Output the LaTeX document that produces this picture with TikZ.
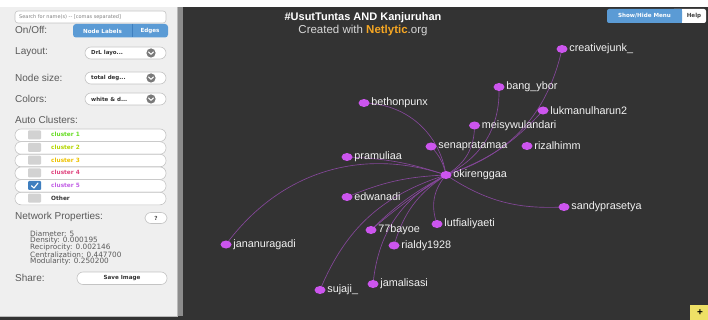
\documentclass[tikz,border=0pt]{standalone}
\usepackage{fontspec}
\setmainfont{Liberation Sans}
\newfontfamily\vfont{DejaVu Sans}
\usetikzlibrary{shapes.geometric}
\pgfdeclarelayer{back}
\pgfdeclarelayer{bg}
\pgfsetlayers{back,bg,main}
\definecolor{canvasc}{HTML}{333333}
\definecolor{panelc}{HTML}{EFEFEF}
\definecolor{framec}{HTML}{8C8C8C}
\definecolor{ptext}{HTML}{5A5A5A}
\definecolor{pillborder}{HTML}{C4C4C4}
\definecolor{bluebtn}{HTML}{5B9BD5}
\definecolor{bluedark}{HTML}{3F7FBF}
\definecolor{dotc}{HTML}{CC55EE}
\definecolor{lblc}{HTML}{F2F2F2}
\definecolor{edgec}{HTML}{85479A}
\definecolor{chevc}{HTML}{7A7A7A}
\definecolor{boxgray}{HTML}{D2D2D2}
\definecolor{cone}{HTML}{66DD22}
\definecolor{ctwo}{HTML}{B5D600}
\definecolor{cthree}{HTML}{EEC200}
\definecolor{cfour}{HTML}{E0457F}
\definecolor{cfive}{HTML}{C25FE6}
\definecolor{orangec}{HTML}{F5A623}
\definecolor{yellowc}{HTML}{EEE066}
\tikzset{
 paneltxt/.style={font=\fontsize{10}{12}\selectfont, text=ptext, anchor=west, inner sep=0},
 pill/.style={draw=pillborder, fill=white, rounded corners=6pt, line width=0.6pt},
 btntxt/.style={font=\vfont\fontsize{5.6}{6}\selectfont\bfseries, inner sep=0},
 ddtxt/.style={font=\vfont\fontsize{5.5}{6}\selectfont\bfseries, text=black!80, anchor=west, inner sep=0},
 gdot/.style={ellipse, minimum width=11pt, minimum height=8pt, inner sep=0, fill=dotc},
 lbl/.style={font=\fontsize{10.8}{12}\selectfont, text=lblc, inner sep=1.5pt},
 gedge/.style={draw=edgec, line width=0.65pt},
 clus/.style={font=\vfont\fontsize{5.8}{6}\selectfont\bfseries, anchor=west, inner sep=0},
 stat/.style={font=\vfont\fontsize{7.3}{8}\selectfont, text=ptext, anchor=west, inner sep=0},
 chk/.style={fill=boxgray, rounded corners=1pt},
}
\begin{document}
\begin{tikzpicture}[x=1pt,y=-1pt]
\useasboundingbox (0,0) rectangle (708,320);
\begin{pgfonlayer}{back}
\fill[white] (0,0) rectangle (708,320);
\fill[canvasc] (0,7) rectangle (708,320);
\end{pgfonlayer}
% left panel
\fill[panelc] (0,7) rectangle (177,316);
\draw[framec!60, line width=0.6pt] (0,316) -- (177,316) -- (177,7);
\fill[framec] (177.5,7) rectangle (183,316);
% search
\draw[pill, rounded corners=3pt] (15,11) rectangle (166,23);
\node[font=\vfont\fontsize{5}{6}\selectfont, text=black!50, anchor=west, inner sep=0] (search) at (19,17) {Search for name(s) -- [comas separated]};
% on/off
\node[paneltxt] (onoff) at (15,30) {On/Off:};
\fill[bluebtn, rounded corners=3pt] (73,24) rectangle (168,37.5);
\draw[bluedark, line width=0.5pt] (132,24) -- (132,37.5);
\node[btntxt, text=white] (nodelabels) at (102.5,31) {Node Labels};
\node[btntxt, text=white] (edgesbtn) at (150,31) {Edges};
% layout
\node[paneltxt] (layout) at (15,52) {Layout:};
\draw[pill] (85,47) rectangle (166,59);
\node[ddtxt] (ddlayout) at (91,53) {DrL layo...};
\fill[chevc] (151,53) circle (4.6);
\draw[white, line width=1.1pt, line cap=round, line join=round] (148.6,52) -- (151,54.3) -- (153.4,52);
% node size
\node[paneltxt] (nodesize) at (15,78) {Node size:};
\draw[pill] (85,72) rectangle (166,84);
\node[ddtxt] (ddsize) at (91,78) {total deg...};
\fill[chevc] (151,78) circle (4.6);
\draw[white, line width=1.1pt, line cap=round, line join=round] (148.6,77) -- (151,79.3) -- (153.4,77);
% colors
\node[paneltxt] (colors) at (15,99) {Colors:};
\draw[pill] (85,93) rectangle (166,105);
\node[ddtxt] (ddcolors) at (91,99) {white \& d...};
\fill[chevc] (151,99) circle (4.6);
\draw[white, line width=1.1pt, line cap=round, line join=round] (148.6,98) -- (151,100.3) -- (153.4,98);
% clusters
\node[paneltxt] (autoclusters) at (15,120) {Auto Clusters:};
\foreach \yy in {129,141.7,154.3,167,179.7,192.3} {
  \draw[pill] (15,\yy) rectangle (166,\yy+12.5);
}
\foreach \yy in {134.8,147.5,160.1,172.8,198.1} {
  \fill[chk] (28,\yy-4.5) rectangle (41,\yy+4.5);
}
\fill[bluedark, rounded corners=1pt] (28,181) rectangle (41,190);
\draw[white, line width=1.1pt, line cap=round, line join=round] (31.5,185.8) -- (34,188) -- (38,183);
\node[clus, text=cone] (c1) at (51,134.8) {cluster 1};
\node[clus, text=ctwo] (c2) at (51,147.5) {cluster 2};
\node[clus, text=cthree] (c3) at (51,160.1) {cluster 3};
\node[clus, text=cfour] (c4) at (51,172.8) {cluster 4};
\node[clus, text=cfive] (c5) at (51,185.5) {cluster 5};
\node[clus, text=black!80] (cother) at (51,198.1) {Other};
% network properties
\node[paneltxt] (netprops) at (15,217) {Network Properties:};
\draw[pill] (145,212.5) rectangle (167,223.5);
\node[btntxt, text=black!70] (qmark) at (156,218) {?};
\node[stat] (s1) at (30,234) {Diameter: 5};
\node[stat] (s2) at (30,240.8) {Density: 0.000195};
\node[stat] (s3) at (30,247.6) {Reciprocity: 0.002146};
\node[stat] (s4) at (30,254.4) {Centralization: 0.447700};
\node[stat] (s5) at (30,261.2) {Modularity: 0.250200};
\node[paneltxt] (share) at (15,278) {Share:};
\draw[pill] (77,272) rectangle (167,284.5);
\node[btntxt, text=black!80] (saveimg) at (122,278.3) {Save Image};
% title
\node[font=\fontsize{11}{13}\selectfont\bfseries, text=white, inner sep=0] (title) at (363,18) {\#UsutTuntas AND Kanjuruhan};
\node[font=\fontsize{11.5}{13}\selectfont, text=black!15, inner sep=0] (sub) at (363,31) {Created with \textcolor{orangec}{\textbf{Netlytic}}.org};
% top right buttons
\fill[white, rounded corners=2pt] (672,9) rectangle (706,23);
\fill[bluebtn, rounded corners=2pt] (607,9) rectangle (682,23);
\fill[bluebtn] (675,9) rectangle (682,23);
\node[btntxt, text=white] (showhide) at (644.5,16) {Show/Hide Menu};
\node[btntxt, text=black!75] (help) at (694,16) {Help};
% plus box
\fill[yellowc] (690,305) rectangle (708,320);
\node[font=\fontsize{10}{10}\selectfont\bfseries, text=black, inner sep=0] (plus) at (700,313) {+};
% graph nodes
\node[gdot, label={[lbl]right:creativejunk\_}] (cj) at (562,49) {};
\node[gdot, label={[lbl]right:bang\_ybor}] (bang) at (499,87) {};
\node[gdot, label={[lbl]right:bethonpunx}] (beth) at (364,103) {};
\node[gdot, label={[lbl]right:lukmanulharun2}] (luk) at (543,110.5) {};
\node[gdot, label={[lbl]right:meisywulandari}] (meisy) at (474.5,125.5) {};
\node[gdot, label={[lbl]right:senapratamaa}] (sena) at (431,146.5) {};
\node[gdot, label={[lbl]right:rizalhimm}] (rizal) at (527,146) {};
\node[gdot, label={[lbl]right:pramuliaa}] (pram) at (347,157) {};
\node[gdot, label={[lbl]right:okirenggaa}] (ok) at (446,175) {};
\node[gdot, label={[lbl]right:edwanadi}] (edw) at (347,197) {};
\node[gdot, label={[lbl]right:sandyprasetya}] (sandy) at (564,207) {};
\node[gdot, label={[lbl]right:lutfialiyaeti}] (lutfi) at (437,224) {};
\node[gdot, label={[lbl]right:77bayoe}] (bayoe) at (371,230) {};
\node[gdot, label={[lbl]right:jananuragadi}] (janan) at (226,244.5) {};
\node[gdot, label={[lbl]right:rialdy1928}] (rialdy) at (394,245.5) {};
\node[gdot, label={[lbl]right:jamalisasi}] (jamal) at (373,284) {};
\node[gdot, label={[lbl]right:sujaji\_}] (sujaji) at (320,290) {};
% edges
\begin{pgfonlayer}{bg}
\draw[gedge] (ok.center) to[bend right=30] (cj.center);
\draw[gedge] (ok.center) to[bend right=33] (bang.center);
\draw[gedge] (ok.center) to[bend right=14] (luk.center);
\draw[gedge] (ok.center) to[bend right=30] (meisy.center);
\draw[gedge] (ok.center) to[bend right=15] (sena.center);
\draw[gedge] (ok.center) to[bend right=40] (beth.center);
\draw[gedge] (ok.center) to[bend right=8] (pram.center);
\draw[gedge] (ok.center) to[bend right=10] (edw.center);
\draw[gedge] (ok.center) to[bend right=36] (janan.center);
\draw[gedge] (ok.center) to[bend right=25] (sujaji.center);
\draw[gedge] (ok.center) to[bend right=28] (jamal.center);
\draw[gedge] (ok.center) to[bend right=20] (rialdy.center);
\draw[gedge] (ok.center) to[bend right=8] (bayoe.center);
\draw[gedge] (ok.center) to[bend right=4] (bayoe.center);
\draw[gedge] (ok.center) to[bend right=30] (lutfi.center);
\draw[gedge] (ok.center) to[bend right=18] (sandy.center);
\end{pgfonlayer}
\end{tikzpicture}
\end{document}
